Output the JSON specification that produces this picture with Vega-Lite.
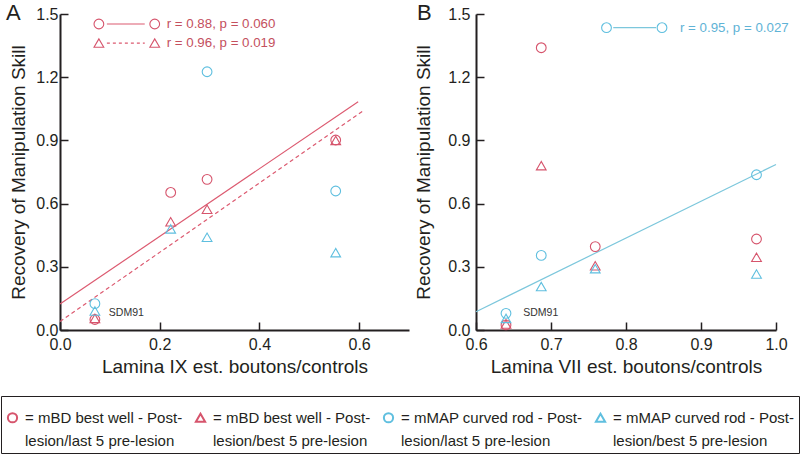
{
  "$schema": "https://vega.github.io/schema/vega-lite/v6.json",
  "padding": {"left": 0, "top": 2, "right": 0, "bottom": 2},
  "background": "white",
  "config": {
    "font": "Liberation Sans, Arial, sans-serif",
    "view": {"stroke": null},
    "axis": {
      "domainColor": "#231f20", "domainWidth": 2,
      "tickColor": "#231f20", "tickWidth": 1.5, "tickSize": -8,
      "labelFontSize": 16, "labelColor": "#231f20",
      "titleFontSize": 19, "titleFontWeight": "normal", "titleColor": "#231f20",
      "grid": false, "labelFlush": false, "labelOverlap": false
    },
    "axisX": {"titlePadding": 5, "labelPadding": 14},
    "axisY": {"titlePadding": 7, "labelPadding": 10},
    "style": {"guide-label": {"lineHeight": 23}}
  },
  "datasets": {
    "points": [
      {"panel": "A", "x": 0.07, "y": 0.05, "series": "mBD best well - Post-lesion/last 5 pre-lesion"},
      {"panel": "A", "x": 0.222, "y": 0.653, "series": "mBD best well - Post-lesion/last 5 pre-lesion"},
      {"panel": "A", "x": 0.295, "y": 0.715, "series": "mBD best well - Post-lesion/last 5 pre-lesion"},
      {"panel": "A", "x": 0.553, "y": 0.902, "series": "mBD best well - Post-lesion/last 5 pre-lesion"},
      {"panel": "A", "x": 0.07, "y": 0.055, "series": "mBD best well - Post-lesion/best 5 pre-lesion"},
      {"panel": "A", "x": 0.222, "y": 0.514, "series": "mBD best well - Post-lesion/best 5 pre-lesion"},
      {"panel": "A", "x": 0.295, "y": 0.573, "series": "mBD best well - Post-lesion/best 5 pre-lesion"},
      {"panel": "A", "x": 0.553, "y": 0.9, "series": "mBD best well - Post-lesion/best 5 pre-lesion"},
      {"panel": "A", "x": 0.07, "y": 0.125, "series": "mMAP curved rod - Post-lesion/last 5 pre-lesion"},
      {"panel": "A", "x": 0.295, "y": 1.226, "series": "mMAP curved rod - Post-lesion/last 5 pre-lesion"},
      {"panel": "A", "x": 0.553, "y": 0.66, "series": "mMAP curved rod - Post-lesion/last 5 pre-lesion"},
      {"panel": "A", "x": 0.07, "y": 0.09, "series": "mMAP curved rod - Post-lesion/best 5 pre-lesion"},
      {"panel": "A", "x": 0.222, "y": 0.48, "series": "mMAP curved rod - Post-lesion/best 5 pre-lesion"},
      {"panel": "A", "x": 0.295, "y": 0.44, "series": "mMAP curved rod - Post-lesion/best 5 pre-lesion"},
      {"panel": "A", "x": 0.553, "y": 0.367, "series": "mMAP curved rod - Post-lesion/best 5 pre-lesion"},
      {"panel": "B", "x": 0.64, "y": 0.024, "series": "mBD best well - Post-lesion/last 5 pre-lesion"},
      {"panel": "B", "x": 0.687, "y": 1.34, "series": "mBD best well - Post-lesion/last 5 pre-lesion"},
      {"panel": "B", "x": 0.759, "y": 0.396, "series": "mBD best well - Post-lesion/last 5 pre-lesion"},
      {"panel": "B", "x": 0.974, "y": 0.432, "series": "mBD best well - Post-lesion/last 5 pre-lesion"},
      {"panel": "B", "x": 0.64, "y": 0.028, "series": "mBD best well - Post-lesion/best 5 pre-lesion"},
      {"panel": "B", "x": 0.687, "y": 0.78, "series": "mBD best well - Post-lesion/best 5 pre-lesion"},
      {"panel": "B", "x": 0.759, "y": 0.305, "series": "mBD best well - Post-lesion/best 5 pre-lesion"},
      {"panel": "B", "x": 0.974, "y": 0.345, "series": "mBD best well - Post-lesion/best 5 pre-lesion"},
      {"panel": "B", "x": 0.64, "y": 0.079, "series": "mMAP curved rod - Post-lesion/last 5 pre-lesion"},
      {"panel": "B", "x": 0.687, "y": 0.354, "series": "mMAP curved rod - Post-lesion/last 5 pre-lesion"},
      {"panel": "B", "x": 0.974, "y": 0.737, "series": "mMAP curved rod - Post-lesion/last 5 pre-lesion"},
      {"panel": "B", "x": 0.64, "y": 0.055, "series": "mMAP curved rod - Post-lesion/best 5 pre-lesion"},
      {"panel": "B", "x": 0.687, "y": 0.206, "series": "mMAP curved rod - Post-lesion/best 5 pre-lesion"},
      {"panel": "B", "x": 0.759, "y": 0.291, "series": "mMAP curved rod - Post-lesion/best 5 pre-lesion"},
      {"panel": "B", "x": 0.974, "y": 0.266, "series": "mMAP curved rod - Post-lesion/best 5 pre-lesion"}
    ],
    "fits": [
      {"panel": "A", "fit": "circle", "x": 0, "y": 0.123},
      {"panel": "A", "fit": "circle", "x": 0.598, "y": 1.084},
      {"panel": "A", "fit": "triangle", "x": 0, "y": 0.04},
      {"panel": "A", "fit": "triangle", "x": 0.608, "y": 1.04},
      {"panel": "B", "fit": "circle", "x": 0.6, "y": 0.087},
      {"panel": "B", "fit": "circle", "x": 1.0, "y": 0.786}
    ],
    "keys": [
      {"panel": "A", "x": 0.078, "y": 1.4525, "series": "mBD best well - Post-lesion/last 5 pre-lesion"},
      {"panel": "A", "x": 0.19, "y": 1.4525, "series": "mBD best well - Post-lesion/last 5 pre-lesion"},
      {"panel": "A", "x": 0.078, "y": 1.362, "series": "mBD best well - Post-lesion/best 5 pre-lesion"},
      {"panel": "A", "x": 0.19, "y": 1.362, "series": "mBD best well - Post-lesion/best 5 pre-lesion"},
      {"panel": "B", "x": 0.774, "y": 1.435, "series": "mMAP curved rod - Post-lesion/last 5 pre-lesion"},
      {"panel": "B", "x": 0.848, "y": 1.435, "series": "mMAP curved rod - Post-lesion/last 5 pre-lesion"}
    ],
    "keyLines": [
      {"panel": "A", "fit": "circle", "x": 0.094, "xend": 0.17, "y": 1.4525},
      {"panel": "A", "fit": "triangle", "x": 0.094, "xend": 0.17, "y": 1.362},
      {"panel": "B", "fit": "circle", "x": 0.783, "xend": 0.84, "y": 1.435}
    ],
    "notes": [
      {"panel": "A", "kind": "stat", "x": 0.214, "y": 1.4525, "label": "r = 0.88, p = 0.060"},
      {"panel": "A", "kind": "stat", "x": 0.214, "y": 1.362, "label": "r = 0.96, p = 0.019"},
      {"panel": "B", "kind": "stat", "x": 0.872, "y": 1.435, "label": "r = 0.95, p = 0.027"},
      {"panel": "A", "kind": "subject", "x": 0.098, "y": 0.082, "label": "SDM91"},
      {"panel": "B", "kind": "subject", "x": 0.663, "y": 0.08, "label": "SDM91"}
    ]
  },
  "hconcat": [
    {
      "width": 349,
      "height": 316,
      "title": {"text": "A", "anchor": "start", "frame": "group", "fontSize": 22, "fontWeight": "normal", "baseline": "alphabetic", "offset": 0, "dx": -54, "dy": 36, "color": "#231f20"},
      "encoding": {
        "x": {"field": "x", "type": "quantitative", "scale": {"domain": [0, 0.7], "nice": false, "zero": false}, "axis": {"values": [0, 0.2, 0.4, 0.6], "format": ".1f", "title": "Lamina IX est. boutons/controls"}},
        "y": {"field": "y", "type": "quantitative", "scale": {"domain": [0, 1.5], "nice": false}, "axis": {"values": [0, 0.3, 0.6, 0.9, 1.2, 1.5], "format": ".1f", "title": "Recovery of Manipulation Skill"}}
      },
      "layer": [
        {
          "data": {"name": "fits"},
          "transform": [{"filter": "datum.panel === 'A' && datum.fit === 'circle'"}],
          "mark": {"type": "line", "color": "#dc5a70", "strokeWidth": 1.2},
          "encoding": {}
        },
        {
          "data": {"name": "fits"},
          "transform": [{"filter": "datum.panel === 'A' && datum.fit === 'triangle'"}],
          "mark": {"type": "line", "color": "#dc5a70", "strokeWidth": 1.2, "strokeDash": [4, 3]},
          "encoding": {}
        },
        {
          "data": {"name": "keyLines"},
          "transform": [{"filter": "datum.panel === 'A' && datum.fit === 'circle'"}],
          "mark": {"type": "rule", "color": "#dc5a70", "strokeWidth": 1.2},
          "encoding": {"x2": {"field": "xend"}}
        },
        {
          "data": {"name": "keyLines"},
          "transform": [{"filter": "datum.panel === 'A' && datum.fit === 'triangle'"}],
          "mark": {"type": "rule", "color": "#dc5a70", "strokeWidth": 1.2, "strokeDash": [3, 3]},
          "encoding": {"x2": {"field": "xend"}}
        },
        {
          "data": {"name": "points"},
          "transform": [{"filter": "datum.panel === 'A'"}],
          "mark": {"type": "point", "filled": false, "size": 95, "strokeWidth": 1.1, "opacity": 1},
          "encoding": {
            "color": {"field": "series", "type": "nominal",
              "scale": {"domain": ["mBD best well - Post-lesion/last 5 pre-lesion", "mBD best well - Post-lesion/best 5 pre-lesion", "mMAP curved rod - Post-lesion/last 5 pre-lesion", "mMAP curved rod - Post-lesion/best 5 pre-lesion"], "range": ["#d6546c", "#d6546c", "#5fbfdf", "#5fbfdf"]},
              "legend": {"orient": "none", "legendX": -59, "legendY": 382, "direction": "horizontal", "columns": 4, "title": " ", "titleFontSize": 9, "titlePadding": 1, "strokeColor": "#231f20", "padding": 4, "columnPadding": 8, "labelFontSize": 15, "labelColor": "#231f20", "labelLimit": 400, "labelBaseline": "middle", "symbolSize": 85, "symbolStrokeWidth": 2, "labelOffset": 5,
                "labelExpr": "['= ' + slice(datum.label, 0, indexof(datum.label, 'Post-') + 5), slice(datum.label, indexof(datum.label, 'Post-') + 5)]"}},
            "shape": {"field": "series", "type": "nominal",
              "scale": {"domain": ["mBD best well - Post-lesion/last 5 pre-lesion", "mBD best well - Post-lesion/best 5 pre-lesion", "mMAP curved rod - Post-lesion/last 5 pre-lesion", "mMAP curved rod - Post-lesion/best 5 pre-lesion"], "range": ["circle", "triangle-up", "circle", "triangle-up"]},
              "legend": {"orient": "none", "legendX": -59, "legendY": 382, "direction": "horizontal", "columns": 4, "title": " ", "titleFontSize": 9, "titlePadding": 1, "strokeColor": "#231f20", "padding": 4, "columnPadding": 8, "labelFontSize": 15, "labelColor": "#231f20", "labelLimit": 400, "labelBaseline": "middle", "symbolSize": 85, "symbolStrokeWidth": 2, "labelOffset": 5,
                "labelExpr": "['= ' + slice(datum.label, 0, indexof(datum.label, 'Post-') + 5), slice(datum.label, indexof(datum.label, 'Post-') + 5)]"}}
          }
        },
        {
          "data": {"name": "keys"},
          "transform": [{"filter": "datum.panel === 'A'"}],
          "mark": {"type": "point", "filled": false, "size": 95, "strokeWidth": 1.1, "opacity": 1},
          "encoding": {
            "color": {"field": "series", "type": "nominal"},
            "shape": {"field": "series", "type": "nominal"}
          }
        },
        {
          "data": {"name": "notes"},
          "transform": [{"filter": "datum.panel === 'A' && datum.kind === 'stat'"}],
          "mark": {"type": "text", "align": "left", "baseline": "middle", "fontSize": 13.3, "color": "#c4505e"},
          "encoding": {"text": {"field": "label"}}
        },
        {
          "data": {"name": "notes"},
          "transform": [{"filter": "datum.panel === 'A' && datum.kind === 'subject'"}],
          "mark": {"type": "text", "align": "left", "baseline": "middle", "fontSize": 10.5, "color": "#333333"},
          "encoding": {"text": {"field": "label"}}
        }
      ]
    },
    {
      "width": 300,
      "height": 316,
      "title": {"text": "B", "anchor": "start", "frame": "group", "fontSize": 22, "fontWeight": "normal", "baseline": "alphabetic", "offset": 0, "dx": -59, "dy": 36, "color": "#231f20"},
      "encoding": {
        "x": {"field": "x", "type": "quantitative", "scale": {"domain": [0.6, 1.0], "nice": false, "zero": false}, "axis": {"values": [0.6, 0.7, 0.8, 0.9, 1.0], "format": ".1f", "title": "Lamina VII est. boutons/controls"}},
        "y": {"field": "y", "type": "quantitative", "scale": {"domain": [0, 1.5], "nice": false}, "axis": {"values": [0, 0.3, 0.6, 0.9, 1.2, 1.5], "format": ".1f", "title": "Recovery of Manipulation Skill", "labelPadding": 14, "titlePadding": 14}}
      },
      "layer": [
        {
          "data": {"name": "fits"},
          "transform": [{"filter": "datum.panel === 'B'"}],
          "mark": {"type": "line", "color": "#7cc7dc", "strokeWidth": 1.2},
          "encoding": {}
        },
        {
          "data": {"name": "keyLines"},
          "transform": [{"filter": "datum.panel === 'B'"}],
          "mark": {"type": "rule", "color": "#7cc7dc", "strokeWidth": 1.2},
          "encoding": {"x2": {"field": "xend"}}
        },
        {
          "data": {"name": "points"},
          "transform": [{"filter": "datum.panel === 'B'"}],
          "mark": {"type": "point", "filled": false, "size": 95, "strokeWidth": 1.1, "opacity": 1},
          "encoding": {
            "color": {"field": "series", "type": "nominal"},
            "shape": {"field": "series", "type": "nominal"}
          }
        },
        {
          "data": {"name": "keys"},
          "transform": [{"filter": "datum.panel === 'B'"}],
          "mark": {"type": "point", "filled": false, "size": 95, "strokeWidth": 1.1, "opacity": 1},
          "encoding": {
            "color": {"field": "series", "type": "nominal"},
            "shape": {"field": "series", "type": "nominal"}
          }
        },
        {
          "data": {"name": "notes"},
          "transform": [{"filter": "datum.panel === 'B' && datum.kind === 'stat'"}],
          "mark": {"type": "text", "align": "left", "baseline": "middle", "fontSize": 13.3, "color": "#5fb3d6"},
          "encoding": {"text": {"field": "label"}}
        },
        {
          "data": {"name": "notes"},
          "transform": [{"filter": "datum.panel === 'B' && datum.kind === 'subject'"}],
          "mark": {"type": "text", "align": "left", "baseline": "middle", "fontSize": 10.5, "color": "#333333"},
          "encoding": {"text": {"field": "label"}}
        }
      ]
    }
  ],
  "spacing": 67,
  "bounds": "flush",
  "resolve": {"scale": {"color": "shared", "shape": "shared"}}
}
